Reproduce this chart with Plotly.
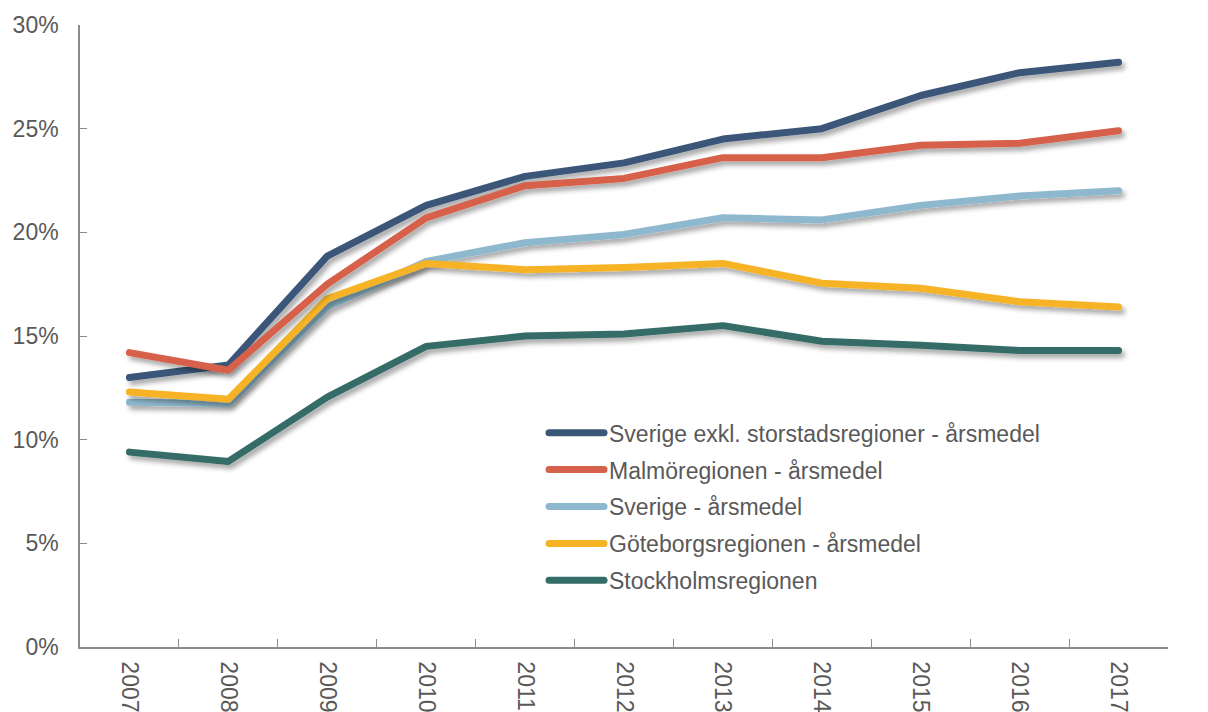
import plotly.graph_objects as go

years = ["2007", "2008", "2009", "2010", "2011", "2012", "2013", "2014", "2015", "2016", "2017"]

sverige_exkl = [13.0, 13.6, 18.85, 21.3, 22.7, 23.35, 24.5, 25.0, 26.6, 27.7, 28.2]
malmo = [14.2, 13.35, 17.5, 20.7, 22.25, 22.6, 23.6, 23.6, 24.2, 24.3, 24.9]
sverige = [11.8, 11.75, 16.4, 18.6, 19.5, 19.9, 20.7, 20.6, 21.3, 21.75, 22.0]
goteborg = [12.3, 11.95, 16.8, 18.5, 18.2, 18.3, 18.5, 17.55, 17.3, 16.65, 16.4]
stockholm = [9.4, 8.95, 12.05, 14.5, 15.0, 15.1, 15.5, 14.75, 14.55, 14.3, 14.3]

end_labels = ["28,2%", "24,9%", "22,0%", "16,4%", "14,3%"]

# (name, values, colour, legend rank) in drawing order
series = [
    ("Stockholmsregionen", stockholm, "#346C67", 5),
    ("Sverige - årsmedel", sverige, "#8DB8CD", 3),
    ("Göteborgsregionen - årsmedel", goteborg, "#F6B326", 4),
    ("Sverige exkl. storstadsregioner - årsmedel", sverige_exkl, "#3A5778", 1),
    ("Malmöregionen - årsmedel", malmo, "#D6614A", 2),
]

text_color = "#595959"
font_family = "Liberation Sans, Arial, sans-serif"
fs = 23

fig = go.Figure()
for name, vals, color, rank in series:
    fig.add_trace(go.Scatter(
        x=years, y=vals, name=name, mode="lines",
        line=dict(color=color, width=7),
        legendrank=rank, legendgroup=name,
    ))

label_series = [sverige_exkl, malmo, sverige, goteborg, stockholm]
for vals, lab in zip(label_series, end_labels):
    fig.add_annotation(
        x=years[-1], y=vals[-1], text=lab, showarrow=False,
        xanchor="left", yanchor="middle", xshift=17,
        font=dict(size=fs, color=text_color, family=font_family),
    )

fig.update_layout(
    width=1208, height=712,
    margin=dict(l=80, r=40, t=25, b=65),
    paper_bgcolor="white", plot_bgcolor="white",
    font=dict(family=font_family, color=text_color, size=fs),
    showlegend=True,
    legend=dict(
        x=0.4265, y=0.379, xanchor="left", yanchor="top",
        font=dict(size=fs, color=text_color),
        tracegroupgap=4, itemwidth=55,
        bgcolor="rgba(0,0,0,0)",
    ),
)

fig.update_xaxes(
    type="category", range=[-0.5, 10.5], automargin=False,
    showline=True, linecolor="#8C8C8C", linewidth=1.5,
    ticks="inside", ticklen=8, tickcolor="#8C8C8C", tickwidth=1.2,
    tickson="boundaries", tickangle=90, showgrid=False, zeroline=False,
    ticklabelstandoff=8,
    tickfont=dict(size=fs, color=text_color),
)
fig.update_yaxes(
    range=[0, 30], tickvals=[0, 5, 10, 15, 20, 25, 30],
    ticktext=["0%", "5%", "10%", "15%", "20%", "25%", "30%"],
    automargin=False,
    showline=True, linecolor="#8C8C8C", linewidth=1.5,
    ticks="inside", ticklen=7, tickcolor="#8C8C8C", tickwidth=1.2,
    showgrid=False, zeroline=False, ticklabelstandoff=15,
    tickfont=dict(size=fs, color=text_color),
)

# soft drop shadow and round caps on the plotted lines
post = """
var gd = document.getElementsByClassName('plotly-graph-div')[0];
function decorate() {
  var svg = gd.querySelector('svg.main-svg');
  if (!svg) return;
  var ns = 'http://www.w3.org/2000/svg';
  if (!document.getElementById('lineShadow')) {
    var defs = svg.querySelector('defs') || svg.insertBefore(document.createElementNS(ns, 'defs'), svg.firstChild);
    var f = document.createElementNS(ns, 'filter');
    f.setAttribute('id', 'lineShadow');
    f.setAttribute('x', '-10%'); f.setAttribute('y', '-30%');
    f.setAttribute('width', '130%'); f.setAttribute('height', '180%');
    var d = document.createElementNS(ns, 'feDropShadow');
    d.setAttribute('dx', '3'); d.setAttribute('dy', '4');
    d.setAttribute('stdDeviation', '2.5');
    d.setAttribute('flood-color', '#000');
    d.setAttribute('flood-opacity', '0.35');
    f.appendChild(d);
    defs.appendChild(f);
  }
  gd.querySelectorAll('.scatterlayer path.js-line').forEach(function (p) {
    p.setAttribute('filter', 'url(#lineShadow)');
    p.style.strokeLinecap = 'round';
    p.style.strokeLinejoin = 'round';
  });
  gd.querySelectorAll('.legend path.js-line').forEach(function (p) {
    p.style.strokeLinecap = 'round';
  });
}
decorate();
gd.on('plotly_afterplot', decorate);
"""

fig.write_html("out.html", post_script=post)
